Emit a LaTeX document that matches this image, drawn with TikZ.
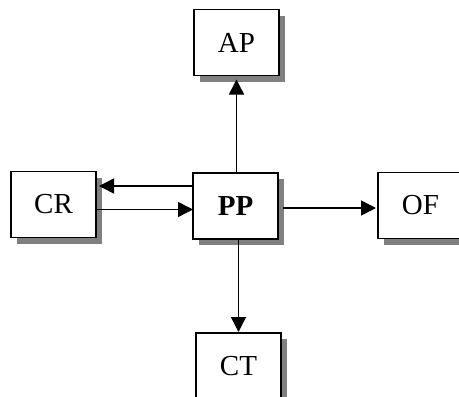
\documentclass[tikz,border=0pt]{standalone}
\usepackage{fontspec}
\setmainfont{Liberation Serif}
\usetikzlibrary{arrows.meta,shadows}
\tikzset{
  blk/.style={draw,line width=1.6pt,fill=white,minimum width=85pt,minimum height=66pt,
    inner sep=0pt,outer sep=0pt,font=\fontsize{29}{34}\selectfont,
    drop shadow={shadow xshift=6pt,shadow yshift=-6pt,fill=gray,opacity=1}},
  arr/.style={line width=1.5pt,-{Triangle[length=15pt,width=15pt]}}
}
\begin{document}
\begin{tikzpicture}[x=1pt,y=-1pt]
  \useasboundingbox (0,0) rectangle (459,397);
  \clip (0,0) rectangle (459,397);
  \node[blk] (AP) at (236.5,42.5) {AP};
  \node[blk] (CR) at (53.5,204.5) {CR};
  \node[blk] (PP) at (235.5,206) {\textbf{PP}};
  \node[blk] (OF) at (420.5,205.5) {OF};
  \node[blk] (CT) at (238.5,366) {CT};
  \draw[arr,shorten >=4pt] (PP.north -| AP.south) -- (AP.south);
  \draw[arr,shorten >=3pt] ([yshift=20pt]PP.west) -- ([yshift=20pt]PP.west -| CR.east);
  \draw[arr] ([yshift=-5pt]CR.east) -- ([yshift=-5pt]CR.east -| PP.west);
  \draw[arr,shorten <=5pt,shorten >=2pt] ([yshift=-2pt]PP.east) -- ([yshift=-2pt]PP.east -| OF.west);
  \draw[arr,shorten >=1pt] (PP.south -| CT.north) -- (CT.north);
\end{tikzpicture}
\end{document}
